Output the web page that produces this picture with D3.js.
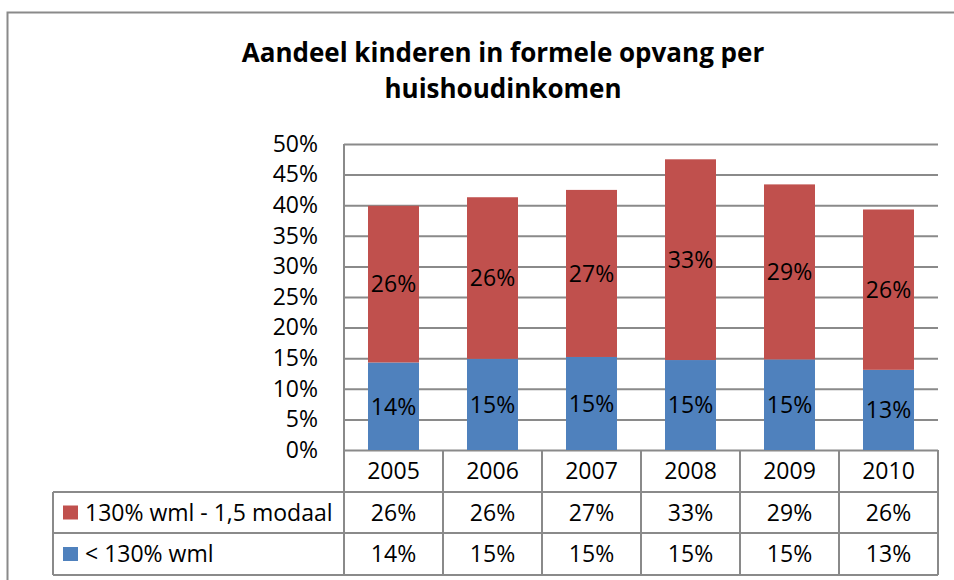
<!DOCTYPE html>
<html>
<head>
<meta charset="utf-8">
<script src="https://cdn.jsdelivr.net/npm/d3@7"></script>
<style>
  body { margin: 0; background: #fff; }
  text { font-family: "Open Sans", "Noto Sans", sans-serif; fill: #000; }
</style>
</head>
<body>
<svg width="954" height="580"></svg>
<script>
// data
var years = ["2005", "2006", "2007", "2008", "2009", "2010"];
var laag = [0.143, 0.149, 0.152, 0.147, 0.148, 0.131];     // < 130% wml
var midden = [0.256, 0.264, 0.273, 0.328, 0.286, 0.262];   // 130% wml - 1,5 modaal
var seriesNames = ["130% wml - 1,5 modaal", "< 130% wml"];
var yTicks = [0, 0.05, 0.1, 0.15, 0.2, 0.25, 0.3, 0.35, 0.4, 0.45, 0.5];
var titleLines = ["Aandeel kinderen in formele opvang per", "huishoudinkomen"];

var kleurRood = "#c0504d", kleurBlauw = "#4f81bd", lijn = "#8a8a8a";
var fs = "23px";

var svg = d3.select("svg");

// rand om de grafiek
svg.append("path")
    .attr("d", "M7.5,580V12.5H954")
    .attr("fill", "none")
    .attr("stroke", lijn)
    .attr("stroke-width", 2);

// titel
svg.append("g").selectAll("text")
    .data(titleLines)
    .enter().append("text")
    .attr("x", 503)
    .attr("y", function (d, i) { return 62 + i * 36; })
    .attr("text-anchor", "middle")
    .style("font-size", "26px")
    .style("font-weight", "bold")
    .text(function (d) { return d; });

var plotLeft = 344, plotRight = 938, plotTop = 144, plotBottom = 450;

var x = d3.scaleBand().domain(years).range([plotLeft, plotRight]).paddingInner(0.485).paddingOuter(0.2425);
var cat = d3.scaleBand().domain(years).range([plotLeft, plotRight]); // kolommen van de tabel
var y = d3.scaleLinear().domain([0, 0.5]).range([plotBottom, plotTop]);

// gridlijnen + as
var yAxis = svg.append("g")
    .attr("transform", "translate(" + plotLeft + ",0)")
    .call(d3.axisLeft(y).tickValues(yTicks).tickSize(-(plotRight - plotLeft)).tickPadding(26).tickFormat(d3.format(".0%")));
yAxis.select(".domain").remove();
yAxis.selectAll("line").attr("stroke", lijn).attr("stroke-width", 2);
yAxis.selectAll("text").style("font-size", fs).style("font-family", "'Open Sans', sans-serif").attr("fill", "#000");
svg.append("line")
    .attr("x1", plotLeft).attr("x2", plotLeft).attr("y1", plotTop).attr("y2", plotBottom)
    .attr("stroke", lijn).attr("stroke-width", 2);

// gestapelde staven
var stack = years.map(function (d, i) {
    return { jaar: d, laag: laag[i], midden: midden[i] };
});

var bars = svg.append("g");
bars.selectAll(".blauw")
    .data(stack)
    .enter().append("rect")
    .attr("class", "blauw")
    .attr("x", function (d) { return x(d.jaar); })
    .attr("y", function (d) { return y(d.laag); })
    .attr("width", x.bandwidth())
    .attr("height", function (d) { return y(0) - y(d.laag); })
    .attr("fill", kleurBlauw);

bars.selectAll(".rood")
    .data(stack)
    .enter().append("rect")
    .attr("class", "rood")
    .attr("x", function (d) { return x(d.jaar); })
    .attr("y", function (d) { return y(d.laag + d.midden); })
    .attr("width", x.bandwidth())
    .attr("height", function (d) { return y(d.laag) - y(d.laag + d.midden); })
    .attr("fill", kleurRood);

// labels in de staven
var pct = d3.format(".0%");
bars.selectAll(".lblBlauw")
    .data(stack)
    .enter().append("text")
    .attr("x", function (d) { return x(d.jaar) + x.bandwidth() / 2; })
    .attr("y", function (d) { return y(d.laag / 2); })
    .attr("dy", "0.36em")
    .attr("text-anchor", "middle")
    .style("font-size", fs)
    .text(function (d) { return pct(d.laag); });

bars.selectAll(".lblRood")
    .data(stack)
    .enter().append("text")
    .attr("x", function (d) { return x(d.jaar) + x.bandwidth() / 2; })
    .attr("y", function (d) { return y(d.laag + d.midden / 2); })
    .attr("dy", "0.36em")
    .attr("text-anchor", "middle")
    .style("font-size", fs)
    .text(function (d) { return pct(d.midden); });

// datatabel onder de grafiek
var tabLeft = 53, rij1 = 492, rij2 = 533, tabBottom = 575;
var tabel = svg.append("g");

tabel.append("path")
    .attr("d", "M" + plotLeft + "," + plotBottom + "V" + tabBottom +
        "M" + tabLeft + "," + rij1 + "H" + plotRight +
        "M" + tabLeft + "," + rij2 + "H" + plotRight +
        "M" + tabLeft + "," + tabBottom + "H" + plotRight +
        "M" + tabLeft + "," + rij1 + "V" + tabBottom)
    .attr("fill", "none")
    .attr("stroke", lijn)
    .attr("stroke-width", 2);

tabel.selectAll(".kolom")
    .data(years)
    .enter().append("line")
    .attr("x1", function (d) { return cat(d) + cat.bandwidth(); })
    .attr("x2", function (d) { return cat(d) + cat.bandwidth(); })
    .attr("y1", plotBottom).attr("y2", tabBottom)
    .attr("stroke", lijn).attr("stroke-width", 2);

tabel.selectAll(".jaar")
    .data(years)
    .enter().append("text")
    .attr("x", function (d) { return cat(d) + cat.bandwidth() / 2; })
    .attr("y", (plotBottom + rij1) / 2)
    .attr("dy", "0.36em")
    .attr("text-anchor", "middle")
    .style("font-size", fs)
    .text(function (d) { return d; });

var rijen = [
    { naam: seriesNames[0], kleur: kleurRood, waarden: midden, y: (rij1 + rij2) / 2 },
    { naam: seriesNames[1], kleur: kleurBlauw, waarden: laag, y: (rij2 + tabBottom) / 2 }
];

rijen.forEach(function (r) {
    tabel.append("rect")
        .attr("x", 63).attr("y", r.y - 7)
        .attr("width", 15).attr("height", 14)
        .attr("fill", r.kleur);
    tabel.append("text")
        .attr("x", 85).attr("y", r.y)
        .attr("dy", "0.36em")
        .style("font-size", fs)
        .text(r.naam);
    tabel.selectAll(null)
        .data(r.waarden)
        .enter().append("text")
        .attr("x", function (d, i) { return cat(years[i]) + cat.bandwidth() / 2; })
        .attr("y", r.y)
        .attr("dy", "0.36em")
        .attr("text-anchor", "middle")
        .style("font-size", fs)
        .text(function (d) { return pct(d); });
});
</script>
</body>
</html>
